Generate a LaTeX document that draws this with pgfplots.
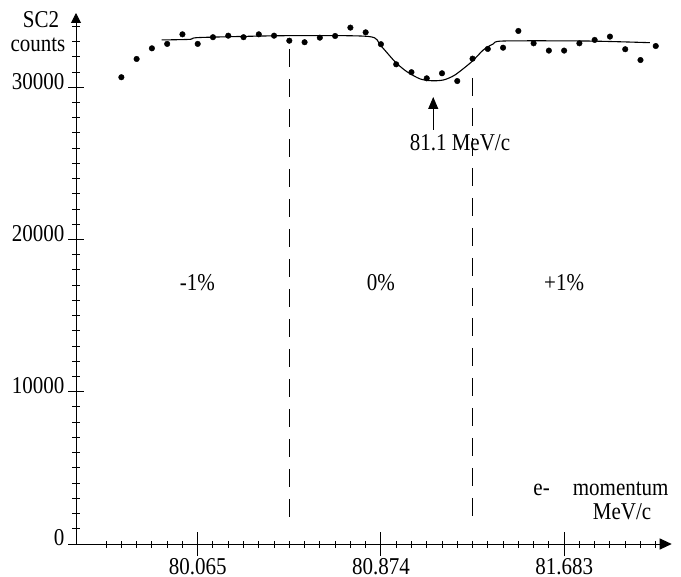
\documentclass[border=0pt]{standalone}
\usepackage{fontspec}
\setmainfont{Liberation Serif}
\usepackage{graphicx}
\usepackage{pgfplots}
\pgfplotsset{compat=1.18}
\usetikzlibrary{arrows.meta}
% the reference's lettering is a little taller than plain Times
\newcommand{\vs}[1]{\scalebox{1}[1.15]{#1}}

\begin{document}
\fontsize{21bp}{25bp}\selectfont
\begin{tikzpicture}[x=1bp,y=1bp]
  \path[use as bounding box] (0,0) rectangle (681,-577);
  \pgfplotsset{
    base/.style={
      at={(76bp,-544bp)}, anchor=south west, scale only axis,
      width=595.7bp, height=531bp,
      xmin=79.5276, xmax=82.158, ymin=0, ymax=34880,
      tick align=inside, clip=false,
      tick style={line width=1bp, black},
      tick label style={font=\fontsize{21bp}{25bp}\selectfont},
    }
  }
  % y axis only
  \begin{axis}[base, axis x line=none, axis y line=left, xtick=\empty,
      y axis line style={line width=1bp, -{Triangle[length=10bp,width=10bp]}},
      ytick={0,10000,20000,30000},
      yticklabels={\vs{0},\vs{10000},\vs{20000},\vs{30000}},
      minor ytick={1000,2000,...,34000},
      major tick length=15bp, minor tick length=8bp,
      yticklabel style={yshift=6bp, inner sep=4bp}]
  \end{axis}
  % x axis and data
  \begin{axis}[base, axis y line=none, axis x line=bottom, ytick=\empty,
      x axis line style={line width=1bp, -{Triangle[length=12bp,width=11bp]}},
      xtick={80.065,80.874,81.683},
      xticklabels={\vs{80.065},\vs{80.874},\vs{81.683}},
      xticklabel style={inner sep=2bp},
      minor xtick={79.6605,79.72792,...,82.1},
      major tick length=24bp, minor tick length=7bp]
    \addplot[only marks, mark=*, mark size=2.8bp, black] coordinates {
      (79.7279,30660) (79.7953,31860) (79.8628,32560) (79.9302,32850)
      (79.9976,33480) (80.0650,32850) (80.1324,33290) (80.1998,33390)
      (80.2673,33290) (80.3347,33480) (80.4021,33390) (80.4695,33060)
      (80.5369,32960) (80.6043,33260) (80.6718,33370) (80.7392,33920)
      (80.8066,33610) (80.8740,32830) (80.9414,31510) (81.0088,30990)
      (81.0763,30590) (81.1437,30920) (81.2111,30410) (81.2785,31880)
      (81.3459,32520) (81.4133,32600) (81.4808,33700) (81.5482,32890)
      (81.6156,32410) (81.6830,32410) (81.7504,32890) (81.8178,33110)
      (81.8853,33330) (81.9527,32500) (82.0201,31790) (82.0875,32710)
    };
    \addplot[smooth, tension=0.45, line width=1.1bp, black] coordinates {
      (79.906,33110) (80.031,33150) (80.075,33270) (80.458,33390)
      (80.818,33340) (80.870,32780) (80.936,31680) (80.988,31030)
      (81.047,30550) (81.098,30430) (81.150,30480) (81.201,30810)
      (81.275,31680) (81.326,32450) (81.370,32850) (81.415,33040)
      (81.783,33040) (82.062,32930)
    };
    \draw[line width=1bp, dash pattern=on 18bp off 12bp]
      (axis cs:80.4695,32520) -- (axis cs:80.4695,1445);
    \draw[line width=1bp, dash pattern=on 18bp off 12bp]
      (axis cs:81.2785,30620) -- (axis cs:81.2785,1445);
    \draw[line width=1bp, -{Triangle[length=12bp,width=10bp]}]
      (axis cs:81.105,27200) -- (axis cs:81.105,29364);
    \node at (axis cs:81.223,26342) {\vs{81.1 MeV/c}};
    \node at (axis cs:80.063,17145) {\vs{-1\%}};
    \node at (axis cs:80.874,17145) {\vs{0\%}};
    \node at (axis cs:81.683,17145) {\vs{+1\%}};
  \end{axis}
  \node at (41,-20) {\vs{SC2}};
  \node at (38,-45) {\vs{counts}};
  \node at (601,-489) {\vs{e-\hspace{1.1em}momentum}};
  \node at (622,-512) {\vs{MeV/c}};
\end{tikzpicture}
\end{document}
